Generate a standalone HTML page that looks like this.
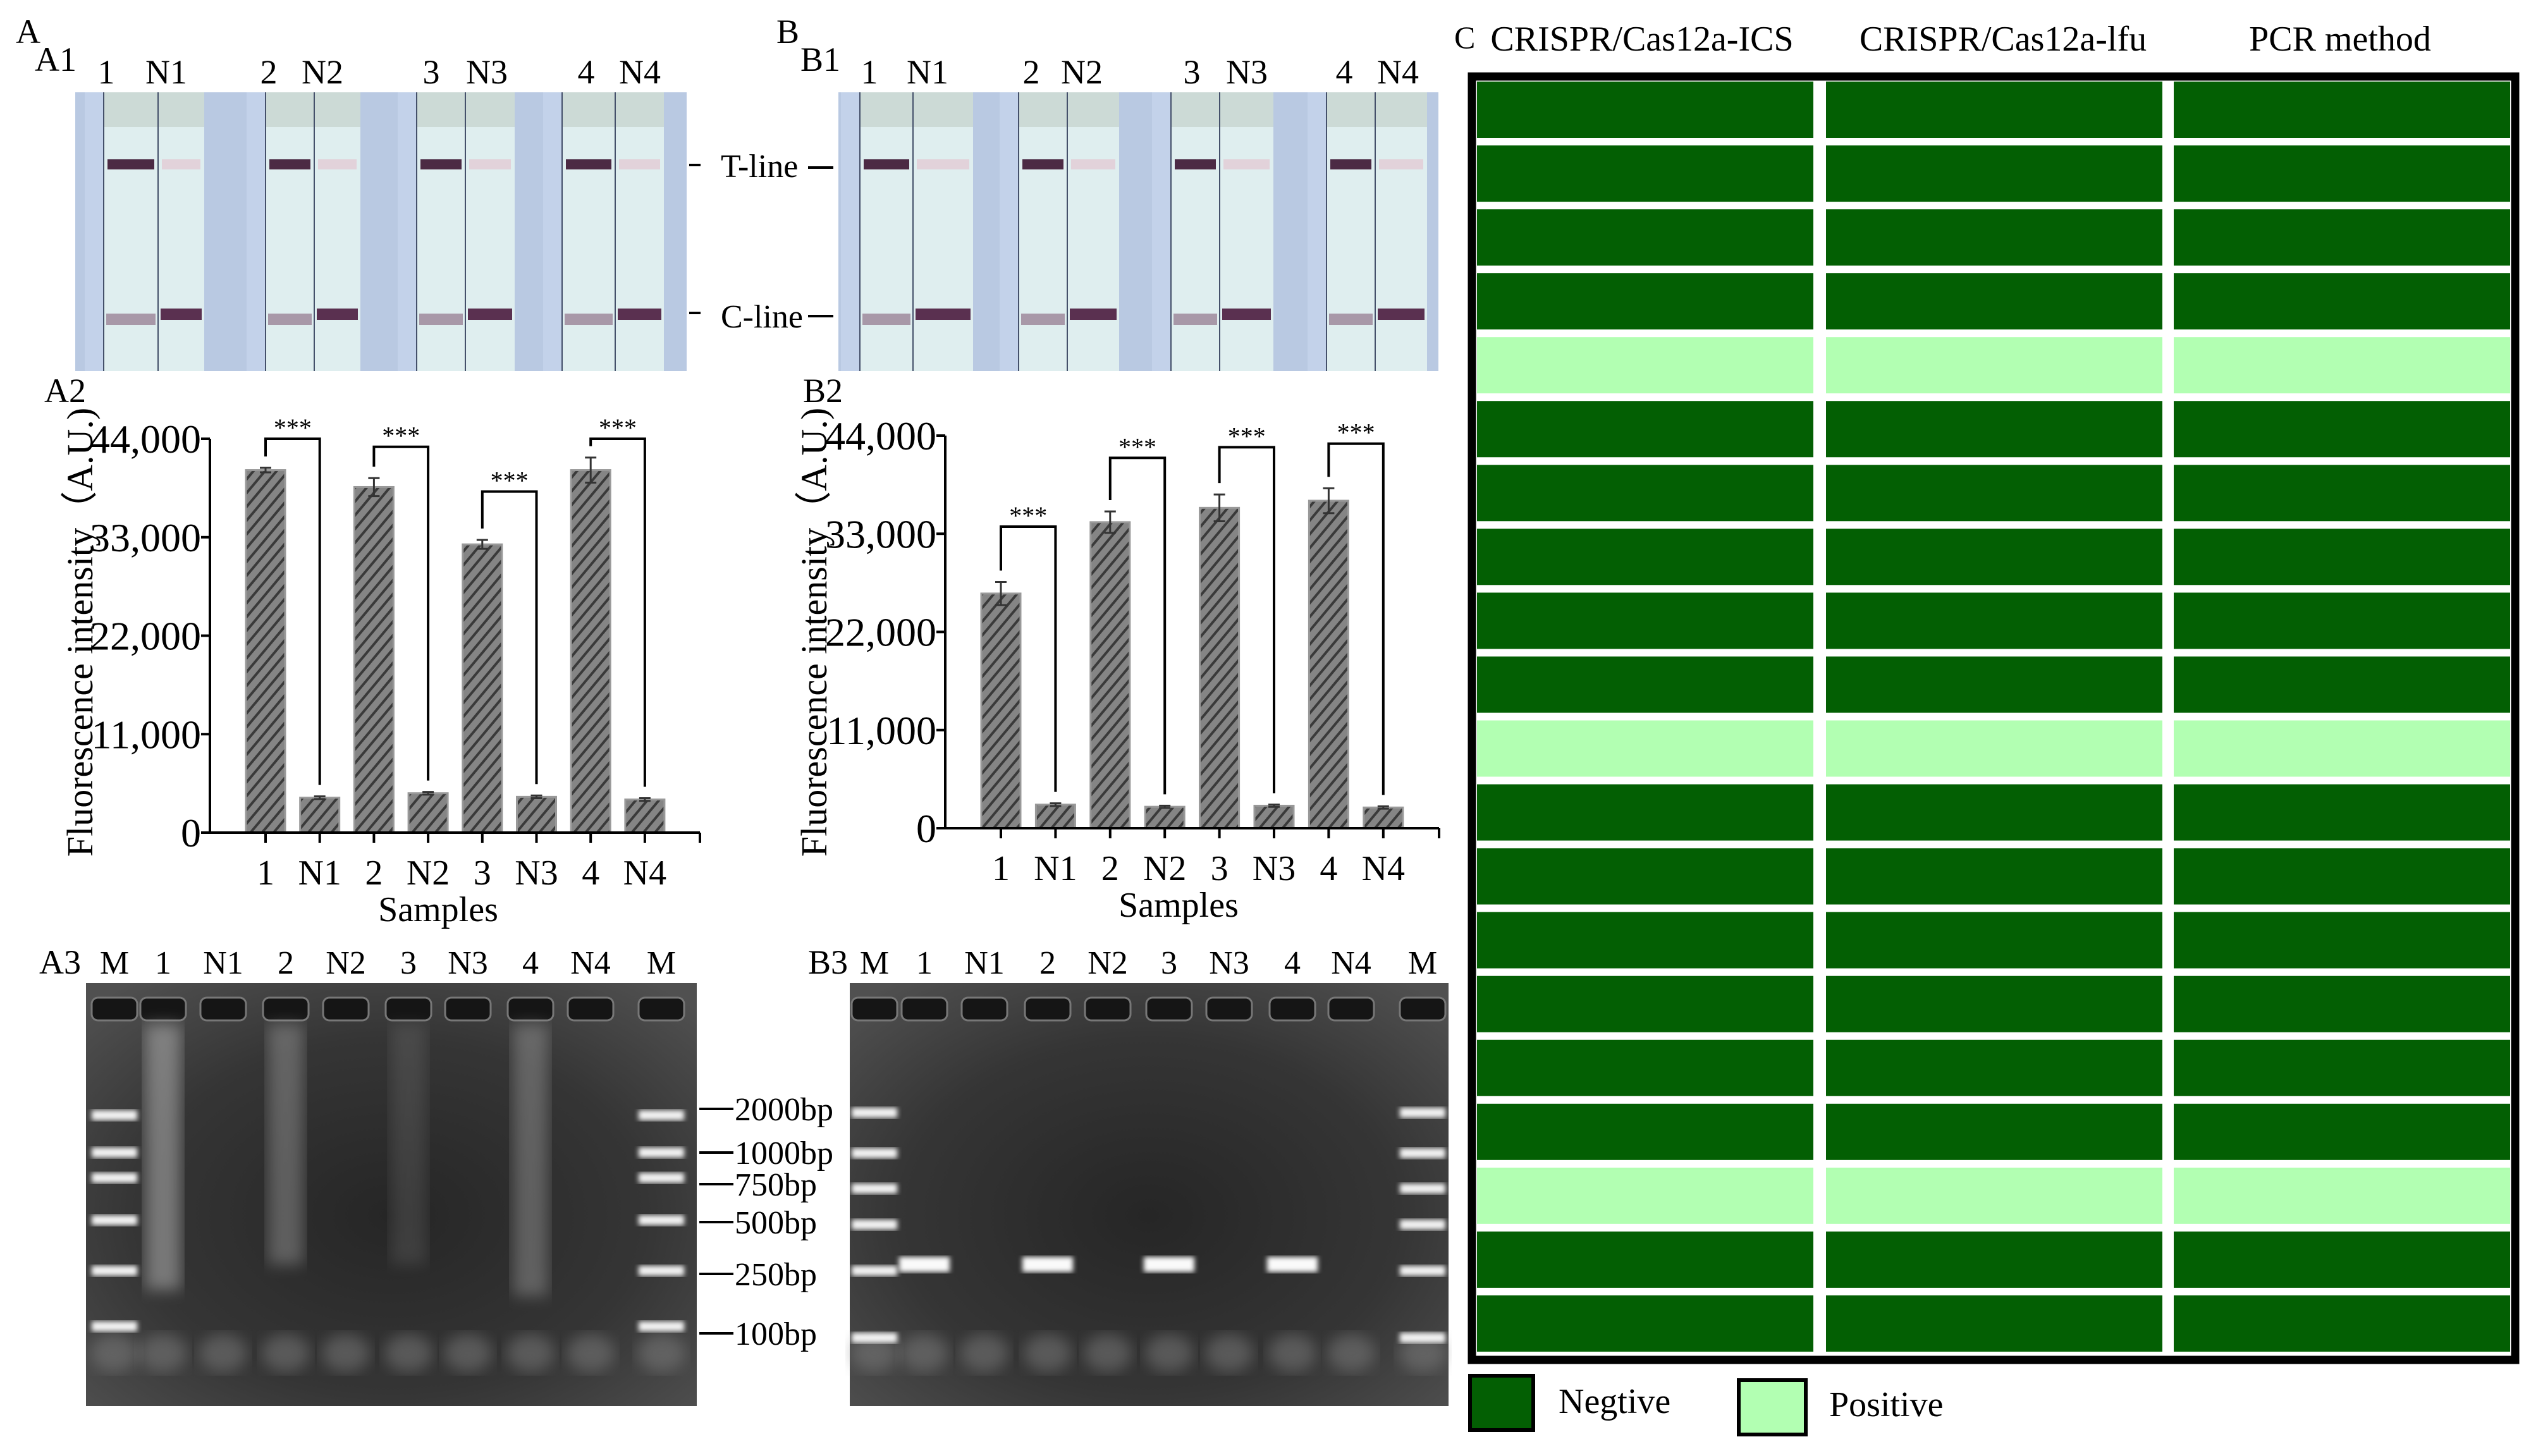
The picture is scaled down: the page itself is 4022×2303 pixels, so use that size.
<!DOCTYPE html>
<html><head><meta charset="utf-8"><style>
html,body{margin:0;padding:0;background:#fff;}
svg{display:block;font-family:"Liberation Serif",serif;}
</style></head><body>
<svg id="fig" width="4022" height="2303" viewBox="0 0 4022 2303" xmlns="http://www.w3.org/2000/svg">
<defs>
<pattern id="hatch" patternUnits="userSpaceOnUse" width="14" height="14" patternTransform="rotate(40)">
<rect width="14" height="14" fill="#858585"/><rect width="4" height="14" fill="#3a3a3a"/>
</pattern>
<filter id="blur4"><feGaussianBlur stdDeviation="4"/></filter>
<filter id="blur12"><feGaussianBlur stdDeviation="12"/></filter>
<filter id="blur30"><feGaussianBlur stdDeviation="30"/></filter>
<radialGradient id="gelg" cx="0.5" cy="0.55" r="0.7"><stop offset="0" stop-color="#262626"/><stop offset="0.6" stop-color="#353535"/><stop offset="1" stop-color="#505050"/></radialGradient>
</defs>
<g id="panelA1"></g>
<g id="panelB1"></g>
<g id="chartA"></g>
<g id="chartB"></g>
<g id="gelA"></g>
<g id="gelB"></g>
<g id="gridC"></g>

<text x="25" y="68" font-size="54">A</text>
<text x="55" y="112" font-size="54">A1</text>
<text x="1228" y="68" font-size="54">B</text>
<text x="1266" y="112" font-size="54">B1</text>
<text x="70" y="636" font-size="54">A2</text>
<text x="1270" y="636" font-size="54">B2</text>
<text x="62" y="1540" font-size="54">A3</text>
<text x="1278" y="1540" font-size="54">B3</text>
<text x="2300" y="76" font-size="50">C</text>

<g>
<line x1="1090" y1="261" x2="1108" y2="261" stroke="#000" stroke-width="4"/>
<text x="1140" y="280" font-size="52">T-line</text>
<line x1="1278" y1="265" x2="1318" y2="265" stroke="#000" stroke-width="4"/>
</g>
<g>
<line x1="1090" y1="495" x2="1108" y2="495" stroke="#000" stroke-width="4"/>
<text x="1140" y="518" font-size="52">C-line</text>
<line x1="1278" y1="500" x2="1318" y2="500" stroke="#000" stroke-width="4"/>
</g>

<g font-size="56" text-anchor="middle">
<text x="2597" y="80">CRISPR/Cas12a-ICS</text>
<text x="3168" y="80">CRISPR/Cas12a-lfu</text>
<text x="3701" y="80">PCR method</text>
</g>
<g>
<rect x="2325" y="2176" width="100" height="86" fill="#035f03" stroke="#000" stroke-width="6"/>
<text x="2465" y="2235" font-size="56">Negtive</text>
<rect x="2750" y="2183" width="106" height="86" fill="#b2ffb2" stroke="#000" stroke-width="6"/>
<text x="2893" y="2240" font-size="56">Positive</text>
</g>
</svg>
<script>
// ---- chart data ----
const categories = ['1','N1','2','N2','3','N3','4','N4'];
const valuesA = [40500, 3900, 38600, 4400, 32200, 4000, 40500, 3700];
const errorsA = [250, 150, 1000, 150, 500, 150, 1400, 150];
const bracketsA = [44000, 43100, 38100, 44000];
const valuesB = [26300, 2640, 34300, 2400, 35900, 2520, 36700, 2320];
const errorsB = [1300, 150, 1200, 120, 1500, 130, 1400, 130];
const bracketsB = [33800, 41500, 42700, 43100];
const tickValues = [0, 11000, 22000, 33000, 44000];
const tickLabels = ['0', '11,000', '22,000', '33,000', '44,000'];
const sigLabels = ['***', '***', '***', '***'];
const gridRows = [0,0,0,0,1,0,0,0,0,0,1,0,0,0,0,0,0,1,0,0];
const gridCols = ['CRISPR/Cas12a-ICS', 'CRISPR/Cas12a-lfu', 'PCR method'];

const NS = 'http://www.w3.org/2000/svg';
function mk(tag, attrs, parent) {
  const e = document.createElementNS(NS, tag);
  for (const k in attrs) e.setAttribute(k, attrs[k]);
  if (parent) parent.appendChild(e);
  return e;
}

function drawChart(gid, cfg, vals, errs, brs) {
  const g = document.getElementById(gid);
  const yMax = 44000;
  const y = v => cfg.y0 - v / yMax * (cfg.y0 - cfg.yTop);
  const x = i => cfg.x0 + i * cfg.step;
  vals.forEach((v, i) => {
    const b = mk('rect', {x: x(i) - 31, y: y(v), width: 62, height: cfg.y0 - y(v), fill: 'url(#hatch)', stroke: '#999', 'stroke-width': 3}, g);
    
    
    const eb = mk('path', {d: `M${x(i)},${y(v + errs[i])}V${y(v - errs[i])}M${x(i) - 9},${y(v + errs[i])}H${x(i) + 9}M${x(i) - 9},${y(v - errs[i])}H${x(i) + 9}`, stroke: '#333', 'stroke-width': 3, fill: 'none'}, g);
    
    
  });
  brs.forEach((bv, p) => {
    const i = p * 2, j = i + 1;
    const by = y(bv);
    const l1 = y(vals[i] + errs[i]) - 18, l2 = y(vals[j] + errs[j]) - 18;
    const br = mk('path', {d: `M${x(i)},${l1}V${by}H${x(j)}V${l2}`, stroke: '#000', 'stroke-width': 4, fill: 'none'}, g);
    
    
    const st = mk('text', {x: (x(i) + x(j)) / 2, y: by - 4, 'font-size': 40, 'text-anchor': 'middle'}, g);
    st.textContent = sigLabels[p];
    
    
  });
  const ax = mk('path', {d: `M${cfg.ax0},${cfg.yTop}V${cfg.y0}H${cfg.ax1}`, stroke: '#000', 'stroke-width': 4, fill: 'none'}, g);
  
  
  tickValues.forEach((t, k) => {
    mk('line', {x1: cfg.ax0 - 14, x2: cfg.ax0, y1: y(t), y2: y(t), stroke: '#000', 'stroke-width': 4}, g);
    const tl = mk('text', {x: cfg.ax0 - 14, y: y(t) + 22, 'font-size': 64, 'text-anchor': 'end'}, g);
    tl.textContent = tickLabels[k];
    
    
  });
  categories.forEach((c, i) => {
    mk('line', {x1: x(i), x2: x(i), y1: cfg.y0, y2: cfg.y0 + 16, stroke: '#000', 'stroke-width': 4}, g);
    const xl = mk('text', {x: x(i), y: cfg.y0 + 82, 'font-size': 56, 'text-anchor': 'middle'}, g);
    xl.textContent = c;
    
    
  });
  mk('line', {x1: cfg.ax1, x2: cfg.ax1, y1: cfg.y0, y2: cfg.y0 + 16, stroke: '#000', 'stroke-width': 4}, g);
  const xt = mk('text', {x: cfg.xTitle, y: cfg.y0 + 140, 'font-size': 56, 'text-anchor': 'middle'}, g);
  xt.textContent = 'Samples';
  
  
  const yt = mk('text', {x: 0, y: 0, 'font-size': 58, 'text-anchor': 'middle', transform: `translate(${cfg.yTitleX},1000) rotate(-90)`}, g);
  yt.textContent = 'Fluorescence intensity（A.U.)';
  
  
}
drawChart('chartA', {x0: 420, step: 85.7, y0: 1317, yTop: 694, ax0: 332, ax1: 1107, xTitle: 693, yTitleX: 146}, valuesA, errorsA, bracketsA);
drawChart('chartB', {x0: 1583, step: 86.4, y0: 1310, yTop: 689, ax0: 1495, ax1: 2276, xTitle: 1864, yTitleX: 1307}, valuesB, errorsB, bracketsB);

function drawStrips(gid, x0, x1, pairs, labelX) {
  const g = document.getElementById(gid);
  mk('rect', {x: x0, y: 146, width: x1 - x0, height: 441, fill: '#b9c9e2'}, g);
  pairs.forEach((p, k) => {
    mk('rect', {x: p[0] - 30, y: 146, width: 30, height: 441, fill: '#c3d2ea'}, g);
    [[p[0], p[1], true], [p[1], p[2], false]].forEach(s => {
      const st = mk('rect', {x: s[0], y: 146, width: s[1] - s[0], height: 441, fill: '#dfeeef'}, g);
      
      
      mk('rect', {x: s[0], y: 146, width: s[1] - s[0], height: 55, fill: '#ccdad6'}, g);
      mk('rect', {x: s[0] + 6, y: 252, width: s[1] - s[0] - 12, height: 16, fill: s[2] ? '#4c2a44' : '#e2d2da'}, g);
      mk('rect', {x: s[0] + 4, y: s[2] ? 496 : 488, width: s[1] - s[0] - 8, height: 18, fill: s[2] ? '#a898a8' : '#5a3050'}, g);
      mk('line', {x1: s[0], x2: s[0], y1: 146, y2: 587, stroke: '#44506a', 'stroke-width': 2}, g);
    });
  });
  categories.forEach((c, i) => {
    const t = mk('text', {x: labelX[i], y: 132, 'font-size': 54, 'text-anchor': 'middle'}, g);
    t.textContent = c;
    
    
  });
}
drawStrips('panelA1', 119, 1086, [[164,250,323],[420,497,570],[659,736,814],[889,973,1050]], [168,263,425,510,682,770,927,1012]);
drawStrips('panelB1', 1326, 2275, [[1360,1444,1539],[1611,1688,1770],[1852,1929,2014],[2098,2175,2257]], [1375,1467,1631,1711,1885,1972,2126,2211]);

const laneNames = ['M','1','N1','2','N2','3','N3','4','N4','M'];
function drawGel(gid, x0, x1, lanes, markerY, pcrBands, smears, bpLabels) {
  const g = document.getElementById(gid);
  mk('rect', {x: x0, y: 1555, width: x1 - x0, height: 669, fill: '#505050'}, g);
  mk('rect', {x: x0, y: 1555, width: x1 - x0, height: 669, fill: 'url(#gelg)'}, g);
  lanes.forEach((lx, i) => {
    mk('rect', {x: lx - 36, y: 1578, width: 72, height: 36, rx: 10, fill: '#151515', stroke: '#777', 'stroke-width': 3}, g);
    mk('ellipse', {cx: lx, cy: 2140, rx: 38, ry: 30, fill: '#888', opacity: 0.45, filter: 'url(#blur12)'}, g);
    const t = mk('text', {x: lx, y: 1540, 'font-size': 52, 'text-anchor': 'middle'}, g);
    t.textContent = laneNames[i];
    
    
  });
  [lanes[0], lanes[9]].forEach(lx => markerY.forEach(my => {
    mk('rect', {x: lx - 36, y: my - 8, width: 72, height: 16, fill: '#f2f2f2', filter: 'url(#blur4)'}, g);
  }));
  smears.forEach(s => {
    mk('rect', {x: lanes[s[0]] - 28, y: 1620, width: 56, height: s[1], fill: '#bbb', opacity: s[2], filter: 'url(#blur12)'}, g);
  });
  pcrBands.forEach(k => {
    const b = mk('rect', {x: lanes[k] - 40, y: 1988, width: 80, height: 24, fill: '#fafafa', filter: 'url(#blur4)'}, g);
    
    
  });
  if (bpLabels) bpLabels.forEach(b => {
    mk('line', {x1: 1106, x2: 1160, y1: b[1], y2: b[1], stroke: '#000', 'stroke-width': 4}, g);
    const t = mk('text', {x: 1162, y: b[1] + 18, 'font-size': 52}, g);
    t.textContent = b[0];
    
    
  });
}
drawGel('gelA', 136, 1102, [181,258,353,452,547,646,740,839,934,1046], [1764,1823,1863,1930,2010,2098],
  [], [[1,420,0.5],[3,380,0.35],[5,380,0.15],[7,430,0.35]],
  [['2000bp',1754],['1000bp',1823],['750bp',1873],['500bp',1933],['250bp',2015],['100bp',2109]]);
drawGel('gelB', 1344, 2291, [1383,1462,1557,1657,1752,1849,1944,2044,2137,2250], [1760,1824,1880,1937,2010,2116],
  [1,3,5,7], [], null);

(function () {
  const g = document.getElementById('gridC');
  mk('rect', {x: 2328, y: 121, width: 1650, height: 2030, fill: '#fff', stroke: '#000', 'stroke-width': 13}, g);
  const colX = [2336, 2888, 3438];
  gridRows.forEach((pos, r) => {
    gridCols.forEach((c, ci) => {
      const cell = mk('rect', {x: colX[ci], y: 129 + r * 101.05, width: 532, height: 89, fill: pos ? '#b2ffb2' : '#035f03'}, g);
      
      
    });
  });
})();
</script>
</body></html>
